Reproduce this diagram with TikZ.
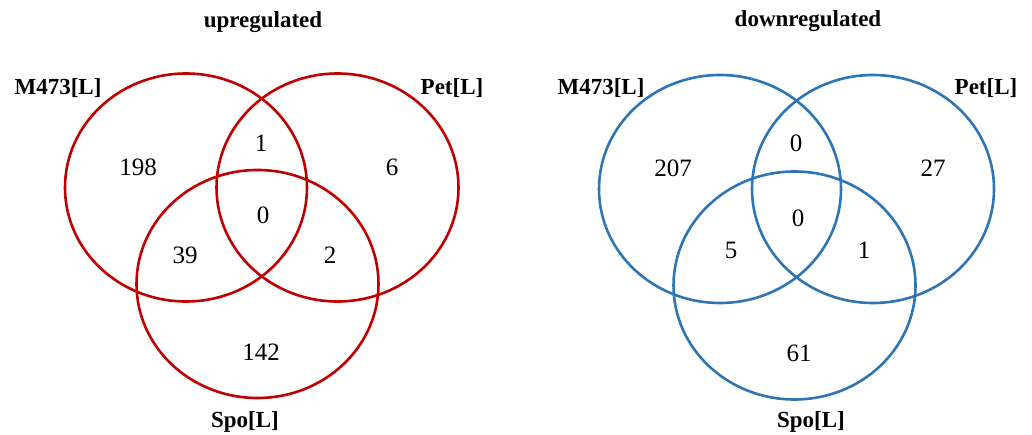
\documentclass[tikz,border=0pt]{standalone}
\usepackage{fontspec}
\setmainfont{Liberation Serif}
\definecolor{upred}{HTML}{C00000}
\definecolor{downblue}{HTML}{2E75B6}
\tikzset{
  ring/.style={line width=2.6pt},
  num/.style={font=\fontsize{25}{30}\selectfont, inner sep=0pt},
  setlab/.style={font=\fontsize{23}{28}\selectfont\bfseries, inner sep=0pt},
}

\begin{document}
\begin{tikzpicture}[x=1pt,y=-1pt]
  \useasboundingbox (0,0) rectangle (1032,435);
  % upregulated
  \coordinate (uM) at (186,187.5);
  \coordinate (uP) at (337.5,187.5);
  \coordinate (uS) at (257.5,284);
  \draw[ring,upred] (uM) ellipse [x radius=121, y radius=114];
  \draw[ring,upred] (uP) ellipse [x radius=121, y radius=114];
  \draw[ring,upred] (uS) ellipse [x radius=121, y radius=114];
  \node[setlab] (utitle) at (263,22) {upregulated};
  \node[setlab] (uMlab) at (58,88) {M473[L]};
  \node[setlab] (uPlab) at (452,88) {Pet[L]};
  \node[setlab] (uSlab) at (245,422) {Spo[L]};
  \node[num] (uMonly) at (138,167) {198};
  \node[num] (uMP) at (261,143) {1};
  \node[num] (uPonly) at (392,167) {6};
  \node[num] (uall) at (263,215) {0};
  \node[num] (uMS) at (185,255) {39};
  \node[num] (uPS) at (330,255) {2};
  \node[num] (uSonly) at (261,352) {142};
  % downregulated
  \coordinate (dM) at (720,189);
  \coordinate (dP) at (873,189);
  \coordinate (dS) at (794.5,285.5);
  \draw[ring,downblue] (dM) ellipse [x radius=121, y radius=114];
  \draw[ring,downblue] (dP) ellipse [x radius=121, y radius=114];
  \draw[ring,downblue] (dS) ellipse [x radius=121, y radius=114];
  \node[setlab] (dtitle) at (808,21) {downregulated};
  \node[setlab] (dMlab) at (601,88) {M473[L]};
  \node[setlab] (dPlab) at (986,88) {Pet[L]};
  \node[setlab] (dSlab) at (811,422) {Spo[L]};
  \node[num] (dMonly) at (673,168) {207};
  \node[num] (dMP) at (796,143) {0};
  \node[num] (dPonly) at (933,168) {27};
  \node[num] (dall) at (798,218) {0};
  \node[num] (dMS) at (731,250) {5};
  \node[num] (dPS) at (864,250) {1};
  \node[num] (dSonly) at (799,353) {61};
\end{tikzpicture}
\end{document}
